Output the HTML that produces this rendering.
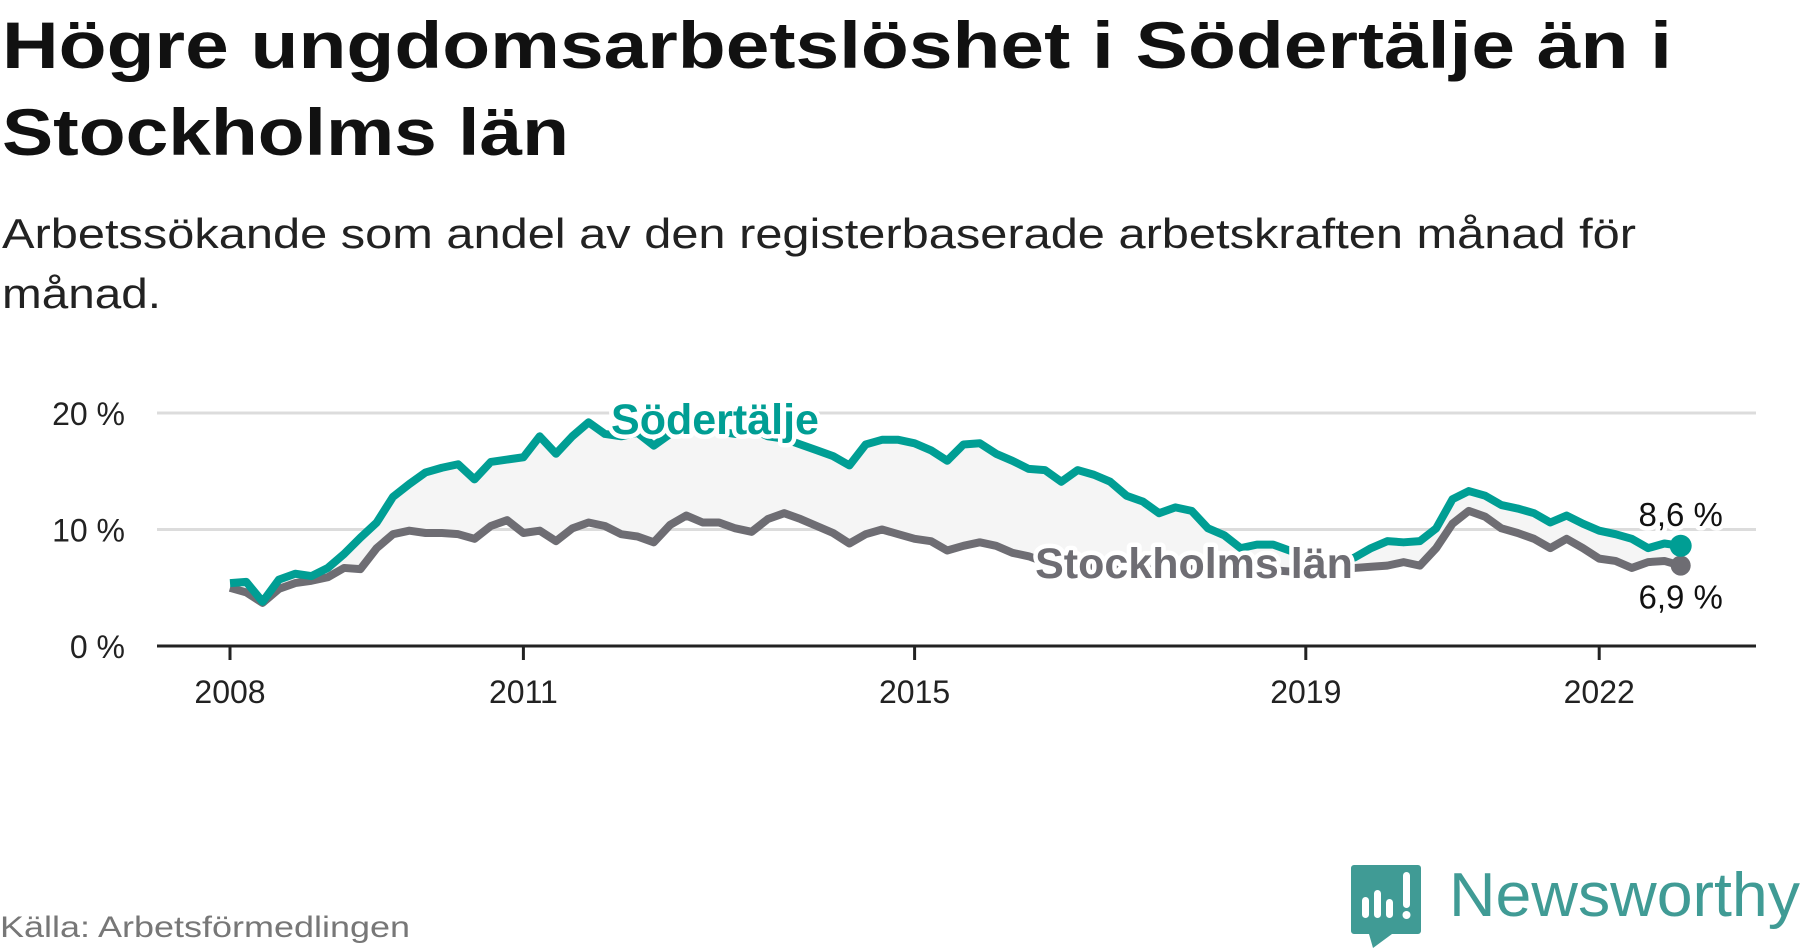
<!DOCTYPE html>
<html><head><meta charset="utf-8"><style>
html,body{margin:0;padding:0;background:#fff;}
svg{display:block;font-family:"Liberation Sans",sans-serif;}
</style></head><body>
<svg id="chart" width="1800" height="948" viewBox="0 0 1800 948" xmlns="http://www.w3.org/2000/svg">
<text x="2" y="68" font-size="66" font-weight="bold" fill="#111" textLength="1670" lengthAdjust="spacingAndGlyphs">Högre ungdomsarbetslöshet i Södertälje än i</text>
<text x="2" y="155" font-size="66" font-weight="bold" fill="#111" textLength="567" lengthAdjust="spacingAndGlyphs">Stockholms län</text>
<text x="2" y="248" font-size="42" fill="#222" textLength="1634" lengthAdjust="spacingAndGlyphs">Arbetssökande som andel av den registerbaserade arbetskraften månad för</text>
<text x="2" y="308" font-size="42" fill="#222" textLength="159" lengthAdjust="spacingAndGlyphs">månad.</text>
<g id="grid"></g><g id="plot"></g><g id="axes"></g><g id="labels"></g>
<text x="0" y="937" font-size="30" fill="#777" textLength="410" lengthAdjust="spacingAndGlyphs">Källa: Arbetsförmedlingen</text>
<g>
<path d="M1354 865 h64 a3 3 0 0 1 3 3 v63 a3 3 0 0 1 -3 3 h-26 l-19 14 l-4 -14 h-15 a3 3 0 0 1 -3 -3 v-63 a3 3 0 0 1 3 -3z" fill="#409b95"/>
<rect x="1362" y="897" width="7" height="21" rx="3.5" fill="#fff"/>
<rect x="1374" y="890" width="7" height="28" rx="3.5" fill="#fff"/>
<rect x="1386" y="899" width="7" height="19" rx="3.5" fill="#fff"/>
<rect x="1403" y="872" width="7" height="36" rx="3.5" fill="#fff"/>
<circle cx="1406.5" cy="915" r="4" fill="#fff"/>
<text x="1449" y="916" font-size="62" fill="#409b95" textLength="351" lengthAdjust="spacingAndGlyphs">Newsworthy</text>
</g>
</svg>
<script>
const startYear = 2008.0;
const stepYears = 1/6;
const sodertalje = [5.4,5.5,3.8,5.7,6.2,6.0,6.7,7.9,9.3,10.6,12.8,13.9,14.9,15.3,15.6,14.3,15.8,16.0,16.2,18.0,16.5,18.0,19.2,18.2,18.0,18.3,17.2,18.2,18.6,18.8,18.4,18.2,18.6,18.0,17.8,17.3,16.8,16.3,15.5,17.3,17.7,17.7,17.4,16.8,15.9,17.3,17.4,16.5,15.9,15.2,15.1,14.1,15.1,14.7,14.1,12.9,12.4,11.4,11.9,11.6,10.1,9.5,8.4,8.7,8.7,8.2,7.7,7.6,7.2,7.6,8.4,9.0,8.9,9.0,10.1,12.6,13.3,12.9,12.1,11.8,11.4,10.6,11.2,10.5,9.9,9.6,9.2,8.4,8.8,8.6];
const stockholm = [5.0,4.6,3.7,4.9,5.4,5.6,5.9,6.7,6.6,8.4,9.6,9.9,9.7,9.7,9.6,9.2,10.3,10.8,9.7,9.9,9.0,10.1,10.6,10.3,9.6,9.4,8.9,10.4,11.2,10.6,10.6,10.1,9.8,10.9,11.4,10.9,10.3,9.7,8.8,9.6,10.0,9.6,9.2,9.0,8.2,8.6,8.9,8.6,8.0,7.7,7.2,7.0,6.9,6.8,6.6,6.5,6.6,6.5,6.4,6.6,6.5,6.4,6.3,6.4,6.5,6.4,6.4,6.5,6.4,6.7,6.8,6.9,7.2,6.9,8.4,10.5,11.6,11.1,10.1,9.7,9.2,8.4,9.2,8.4,7.5,7.3,6.7,7.2,7.3,6.9];
const yTicks = [0,10,20];
const yTickLabels = ["0 %","10 %","20 %"];
const xTicks = [2008,2011,2015,2019,2022];
const xTickLabels = ["2008","2011","2015","2019","2022"];
const seriesNames = ["Södertälje","Stockholms län"];

const NS="http://www.w3.org/2000/svg";
const X = t => 230 + (t-2008)*97.8;
const Y = v => 646 - v*11.65;
function mk(tag, attrs, parent){const e=document.createElementNS(NS,tag);for(const k in attrs)e.setAttribute(k,attrs[k]);parent.appendChild(e);return e;}
const grid=document.getElementById('grid'),plot=document.getElementById('plot'),axes=document.getElementById('axes'),labels=document.getElementById('labels');
yTicks.forEach((v,i)=>{
  if(v!==0){const g=mk('line',{x1:157,x2:1756,y1:Y(v),y2:Y(v),stroke:'#dcdcdc','stroke-width':3},grid);
  
  }
  const t=mk('text',{x:125,y:Y(v)+12,'text-anchor':'end','font-size':32,fill:'#222'},axes);
  t.textContent=yTickLabels[i];
  
  
});
const ax=mk('line',{x1:157,x2:1756,y1:Y(0),y2:Y(0),stroke:'#222','stroke-width':3},axes);


xTicks.forEach((v,i)=>{
  const l=mk('line',{x1:X(v),x2:X(v),y1:Y(0),y2:Y(0)+14,stroke:'#222','stroke-width':3},axes);
  
  
  const t=mk('text',{x:X(v),y:703,'text-anchor':'middle','font-size':32,fill:'#222'},axes);
  t.textContent=xTickLabels[i];
  
  
});
const pts=a=>a.map((v,i)=>[X(startYear+i*stepYears),Y(v)]);
const pS=pts(sodertalje),pK=pts(stockholm);
const area=mk('path',{d:'M'+pS.map(p=>p.join(',')).join('L')+'L'+pK.slice().reverse().map(p=>p.join(',')).join('L')+'Z',fill:'#f5f5f5'},plot);


const lk=mk('polyline',{points:pK.map(p=>p.join(',')).join(' '),fill:'none',stroke:'#6e6d73','stroke-width':8,'stroke-linejoin':'round'},plot);


const ls=mk('polyline',{points:pS.map(p=>p.join(',')).join(' '),fill:'none',stroke:'#009e94','stroke-width':8,'stroke-linejoin':'round'},plot);


const eS=pS[pS.length-1],eK=pK[pK.length-1];
const dk=mk('circle',{cx:eK[0],cy:eK[1],r:10,fill:'#6e6d73'},plot);


const ds=mk('circle',{cx:eS[0],cy:eS[1],r:11,fill:'#009e94'},plot);


function lab(txt,x,y,size,weight,fill,anchor,name){
  const a={x:x,y:y,'font-size':size,'font-weight':weight,'text-anchor':anchor,stroke:'#fff','stroke-width':9,'stroke-linejoin':'round',fill:'#fff'};
  const h=mk('text',a,labels);h.textContent=txt;
  
  
  const t=mk('text',{x:x,y:y,'font-size':size,'font-weight':weight,'text-anchor':anchor,fill:fill},labels);t.textContent=txt;
  
  
}
lab(seriesNames[0],715,434,43,'bold','#009e94','middle','sodertalje-label');
lab(seriesNames[1],1194,578,43,'bold','#6e6d73','middle','stockholm-label');
lab(String(sodertalje[sodertalje.length-1]).replace('.',',')+' %',eS[0],eS[1]-20,33,'normal','#111','middle','sodertalje-end-value');
lab(String(stockholm[stockholm.length-1]).replace('.',',')+' %',eK[0],eK[1]+43,33,'normal','#111','middle','stockholm-end-value');
</script>
</body></html>
